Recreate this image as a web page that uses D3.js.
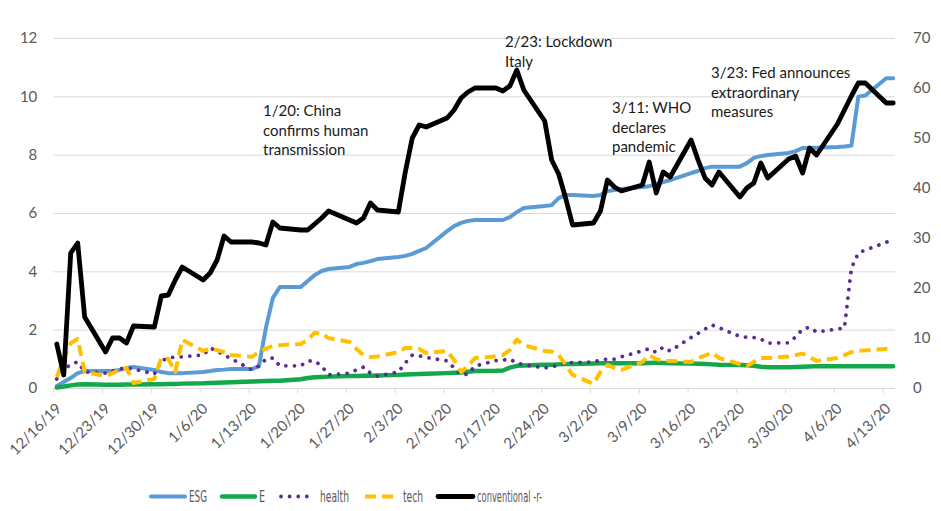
<!DOCTYPE html>
<html><head><meta charset="utf-8">
<script src="https://cdn.jsdelivr.net/npm/d3@7"></script>
<style>
body{margin:0;background:#fff;}
svg{display:block;}
</style></head><body>
<svg id="chart" width="941" height="511"></svg>
<script>
// ---------- DATA ----------
const dates = [
"12/16/19","12/17/19","12/18/19","12/19/19","12/20/19",
"12/23/19","12/24/19","12/25/19","12/26/19","12/27/19",
"12/30/19","12/31/19","1/1/20","1/2/20","1/3/20",
"1/6/20","1/7/20","1/8/20","1/9/20","1/10/20",
"1/13/20","1/14/20","1/15/20","1/16/20","1/17/20",
"1/20/20","1/21/20","1/22/20","1/23/20","1/24/20",
"1/27/20","1/28/20","1/29/20","1/30/20","1/31/20",
"2/3/20","2/4/20","2/5/20","2/6/20","2/7/20",
"2/10/20","2/11/20","2/12/20","2/13/20","2/14/20",
"2/17/20","2/18/20","2/19/20","2/20/20","2/21/20",
"2/24/20","2/25/20","2/26/20","2/27/20","2/28/20",
"3/2/20","3/3/20","3/4/20","3/5/20","3/6/20",
"3/9/20","3/10/20","3/11/20","3/12/20","3/13/20",
"3/16/20","3/17/20","3/18/20","3/19/20","3/20/20",
"3/23/20","3/24/20","3/25/20","3/26/20","3/27/20",
"3/30/20","3/31/20","4/1/20","4/2/20","4/3/20",
"4/6/20","4/7/20","4/8/20","4/9/20","4/10/20",
"4/13/20","4/14/20"];

const esg = [
0.07,0.21,0.34,0.51,0.58,
0.58,0.58,0.62,0.69,0.72,
0.62,0.55,0.51,0.51,0.51,
0.55,0.58,0.62,0.63,0.65,
0.65,0.75,2.06,3.09,3.46,
3.46,3.67,3.87,4.01,4.08,
4.15,4.25,4.29,4.35,4.42,
4.49,4.53,4.60,4.70,4.80,
5.38,5.55,5.66,5.73,5.76,
5.76,5.76,5.86,6.03,6.17,
6.24,6.27,6.51,6.62,6.62,
6.58,6.62,6.75,6.79,6.82,
6.89,6.92,6.99,7.06,7.13,
7.37,7.44,7.54,7.59,7.59,
7.59,7.71,7.89,7.95,7.99,
8.06,8.12,8.23,8.23,8.24,
8.26,8.28,8.31,9.99,10.03,
10.62,10.62];

const e = [
0.02,0.05,0.09,0.12,0.13,
0.11,0.11,0.11,0.12,0.12,
0.13,0.13,0.14,0.14,0.15,
0.16,0.17,0.18,0.19,0.20,
0.22,0.23,0.24,0.25,0.25,
0.30,0.34,0.37,0.38,0.39,
0.41,0.41,0.42,0.42,0.43,
0.45,0.46,0.47,0.48,0.49,
0.51,0.52,0.53,0.56,0.58,
0.59,0.60,0.70,0.76,0.77,
0.80,0.80,0.81,0.82,0.82,
0.84,0.85,0.85,0.85,0.85,
0.85,0.86,0.87,0.86,0.85,
0.84,0.83,0.82,0.81,0.80,
0.79,0.78,0.76,0.73,0.71,
0.71,0.72,0.73,0.74,0.75,
0.75,0.75,0.75,0.75,0.75,
0.75,0.75];

const health = [
0.31,0.62,0.82,0.89,0.55,
0.51,0.58,0.65,0.69,0.65,
0.48,0.93,1.03,1.06,1.07,
1.13,1.37,1.27,1.13,1.01,
0.62,0.75,0.99,1.03,0.76,
0.76,0.93,0.93,0.75,0.45,
0.51,0.62,0.72,0.51,0.41,
0.55,0.86,1.13,1.10,1.05,
0.93,0.69,0.45,0.48,0.75,
0.94,0.96,0.99,0.86,0.79,
0.69,0.72,0.79,0.86,0.87,
0.89,0.96,0.99,0.99,1.07,
1.27,1.35,1.22,1.40,1.27,
1.73,1.87,2.02,2.16,2.07,
1.77,1.74,1.73,1.68,1.54,
1.55,1.75,2.02,2.08,1.92,
2.02,2.06,4.11,4.63,4.73,
5.00,5.07];

const tech = [
0.38,1.03,1.54,1.68,0.55,
0.41,0.51,0.62,0.69,0.17,
0.31,1.03,1.00,0.55,1.65,
1.27,1.35,1.30,1.23,1.13,
1.07,1.23,1.35,1.44,1.47,
1.51,1.65,1.89,1.87,1.71,
1.58,1.34,1.13,1.06,1.08,
1.23,1.37,1.37,1.34,1.20,
1.27,0.96,0.55,0.75,1.03,
1.08,1.13,1.30,1.66,1.47,
1.27,1.25,1.13,0.79,0.45,
0.14,0.55,0.79,0.69,0.62,
0.89,1.13,0.99,0.94,0.93,
0.89,1.03,1.11,1.21,1.03,
0.82,0.75,0.89,1.03,1.03,
1.08,1.13,1.18,1.06,0.93,
1.03,1.13,1.23,1.27,1.29,
1.34,1.35];

// conventional -r- : right axis
const conventional = [
8.8,2.6,27.0,29.0,14.2,
7.2,10.0,10.0,9.0,12.4,
12.2,18.4,18.6,21.6,24.2,
21.6,23.0,25.6,30.4,29.2,
29.2,29.0,28.6,33.2,32.0,
31.6,31.6,32.8,34.0,35.4,
33.6,33.0,34.0,37.0,35.6,
35.2,43.2,50.0,52.6,52.2,
54.0,55.6,58.0,59.2,60.0,
60.0,59.4,60.4,63.6,59.6,
53.4,45.6,42.8,38.0,32.6,
33.0,35.4,41.6,40.2,39.4,
40.6,45.2,39.0,43.2,42.2,
49.6,45.6,42.0,40.6,43.2,
38.2,40.0,41.0,45.0,42.0,
45.8,46.4,43.0,48.0,46.6,
52.8,55.6,58.4,61.0,61.0,
57.0,57.0];

const xTickLabels = ["12/16/19","12/23/19","12/30/19","1/6/20","1/13/20","1/20/20","1/27/20","2/3/20","2/10/20","2/17/20","2/24/20","3/2/20","3/9/20","3/16/20","3/23/20","3/30/20","4/6/20","4/13/20"];
const leftTicks = [0,2,4,6,8,10,12];
const rightTicks = [0,10,20,30,40,50,60,70];

const seriesNames = ["ESG","E","health","tech","conventional -r-"];

const annotations = [
  {date:"1/20/20", lines:["1/20: China","confirms human","transmission"]},
  {date:"2/23/20", lines:["2/23: Lockdown","Italy"]},
  {date:"3/11/20", lines:["3/11: WHO","declares","pandemic"]},
  {date:"3/23/20", lines:["3/23: Fed announces","extraordinary","measures"]}
];

// ---------- CHART ----------
const parse = d3.timeParse("%m/%d/%y");
const svg = d3.select("#chart");
svg.append("rect").attr("width",941).attr("height",511).attr("fill","#fff");

const L = 53.3, R = 896.7, T = 38, B = 388, gridEnd = 895;
const x = d3.scaleTime().domain([parse("12/16/19"), parse("4/15/20")]).range([L, R]);
const yL = d3.scaleLinear().domain([0,12]).range([B,T]);
const yR = d3.scaleLinear().domain([0,70]).range([B,T]);
const mid = s => d3.timeHour.offset(parse(s), 12);

const font = "Lato, 'Open Sans', sans-serif";
const grey = "#595959";

// left axis + gridlines
const gL = svg.append("g").attr("transform",`translate(${L},0)`)
  .call(d3.axisLeft(yL).tickValues(leftTicks).tickSize(-(gridEnd-L)).tickPadding(16).tickFormat(d3.format("d")));
gL.select(".domain").remove();
gL.selectAll(".tick line").attr("stroke","#d9d9d9").attr("stroke-width",1);
gL.selectAll(".tick text").attr("fill",grey).style("font-family",font).style("font-size","15px");

// right axis
const gR = svg.append("g").attr("transform",`translate(${gridEnd},0)`)
  .call(d3.axisRight(yR).tickValues(rightTicks).tickSize(0).tickPadding(18).tickFormat(d3.format("d")));
gR.select(".domain").remove();
gR.selectAll(".tick text").attr("fill",grey).style("font-family",font).style("font-size","15px");

// x axis
const gX = svg.append("g").attr("transform",`translate(0,${B})`)
  .call(d3.axisBottom(x).tickValues(xTickLabels.map(parse)).tickSize(5).tickSizeOuter(0)
    .tickFormat(d3.timeFormat("%-m/%-d/%y")));
gX.select(".domain").attr("stroke","#d9d9d9").attr("d",`M${L},0.5H${gridEnd}`);
gX.selectAll(".tick line").attr("stroke","#d9d9d9");
gX.selectAll(".tick text")
  .attr("fill",grey).style("font-family",font).style("font-size","15px")
  .attr("text-anchor","end").attr("x",0).attr("y",0).attr("dy",0)
  .attr("transform","translate(8.5,21.5) rotate(-45)");

// series
const styles = [
  {name:"ESG", data:esg, y:yL, color:"#5B9BD5", width:4, dash:null, cap:"round"},
  {name:"E", data:e, y:yL, color:"#12A84B", width:4.5, dash:null, cap:"round"},
  {name:"health", data:health, y:yL, color:"#5B2C91", width:3.8, dash:"0.01 8.6", cap:"round"},
  {name:"tech", data:tech, y:yL, color:"#FFC000", width:4, dash:"11 6", cap:"butt"},
  {name:"conventional -r-", data:conventional, y:yR, color:"#000000", width:4.8, dash:null, cap:"round"}
];

styles.forEach(s => {
  const line = d3.line().x((d,i)=>x(mid(dates[i]))).y(d=>s.y(d));
  svg.append("path").datum(s.data)
    .attr("d", line).attr("fill","none")
    .attr("stroke", s.color).attr("stroke-width", s.width)
    .attr("stroke-linejoin","round").attr("stroke-linecap", s.cap)
    .attr("stroke-dasharray", s.dash);
});

// annotations
const annPos = [
  {dx:263, y:116},
  {dx:505, y:47},
  {dx:612, y:113},
  {dx:711, y:78}
];
annotations.forEach((a,i) => {
  const t = svg.append("text").attr("x",annPos[i].dx).attr("y",annPos[i].y)
    .attr("fill","#1a1a1a").style("font-family",font).style("font-size","15px");
  a.lines.forEach((ln,j) => t.append("tspan").attr("x",annPos[i].dx).attr("dy", j===0?0:19.5).text(ln));
});

// legend
const legY = 496.5;
const legItems = [
  {x0:151, x1:185, tx:189, tl:18},
  {x0:222, x1:255, tx:259, tl:6},
  {x0:281, x1:315, tx:320, tl:29},
  {x0:365, x1:397, tx:403, tl:20},
  {x0:438, x1:473, tx:477, tl:65}
];
styles.forEach((s,i) => {
  const li = legItems[i];
  svg.append("line").attr("x1",li.x0).attr("x2",li.x1).attr("y1",legY).attr("y2",legY)
    .attr("stroke",s.color).attr("stroke-width",s.width)
    .attr("stroke-linecap", s.cap).attr("stroke-dasharray", s.dash);
  svg.append("text").attr("x",li.tx).attr("y",legY).attr("dy","0.36em")
    .attr("fill",grey).style("font-family","'Liberation Sans Narrow','DejaVu Sans Condensed',sans-serif")
    .style("font-size","16px")
    .attr("textLength", li.tl).attr("lengthAdjust","spacingAndGlyphs")
    .text(seriesNames[i]);
});
</script>
</body></html>
